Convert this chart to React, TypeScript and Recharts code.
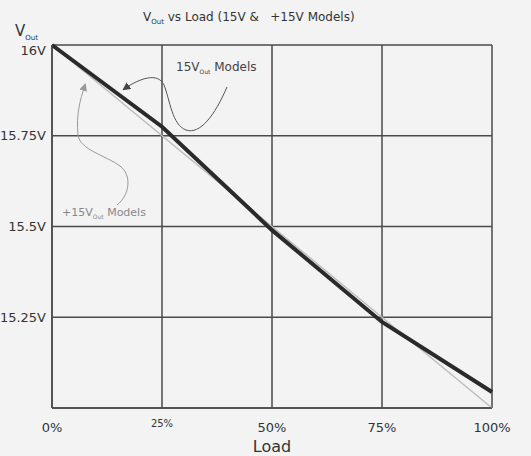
import React from 'react';
import { LineChart, Line, XAxis, YAxis, CartesianGrid, Label } from 'recharts';

// load in percent, output voltage in volts
const loadPct = [0, 25, 50, 75, 100];
const vout15 = [16, 15.775, 15.49, 15.237, 15.044];
const voutPlus15 = [16, 15.75, 15.5, 15.25, 15.0];
const yTicks = [15, 15.25, 15.5, 15.75, 16];
const yTickLabels = ['', '15.25V', '15.5V', '15.75V', '16V'];
const xTickLabels = ['0%', '25%', '50%', '75%', '100%'];

const data = loadPct.map((l, i) => ({ load: l, v15: vout15[i], vPlus15: voutPlus15[i] }));

const FONT = '"DejaVu Sans", sans-serif';
const INK = '#333';
const GRID = '#4a4a4a';

const YTick = (props: any) => {
  const { x, y, payload } = props;
  const idx = yTicks.indexOf(payload.value);
  const shift = payload.value === 16 ? 5 : 0;
  return (
    <text x={x} y={y + shift} dy="0.35em" textAnchor="end" fontSize={13} fill={INK} fontFamily={FONT}>
      {yTickLabels[idx]}
    </text>
  );
};

const XTick = (props: any) => {
  const { x, y, payload } = props;
  const idx = loadPct.indexOf(payload.value);
  const small = payload.value === 25;
  return (
    <text
      x={x}
      y={small ? y - 3 : y}
      dy="0.71em"
      textAnchor="middle"
      fontSize={small ? 10 : 13}
      fill={INK}
      fontFamily={FONT}
    >
      {xTickLabels[idx]}
    </text>
  );
};

export default function App() {
  return (
    <div style={{ position: 'absolute', left: 0, top: 0, width: 531, height: 456, background: '#f3f3f3', overflow: 'hidden' }}>
      <LineChart
        width={531}
        height={456}
        data={data}
        margin={{ top: 45, right: 39, bottom: 0, left: 0 }}
      >
        <CartesianGrid stroke={GRID} strokeWidth={1.5} />
        <XAxis
          dataKey="load"
          type="number"
          domain={[0, 100]}
          ticks={loadPct}
          height={48}
          tickSize={0}
          tickMargin={15}
          axisLine={{ stroke: GRID, strokeWidth: 1.5 }}
          tickLine={false}
          tick={<XTick />}
        >
          <Label value="Load" position="insideBottom" offset={4} fontSize={16} fill={INK} fontFamily={FONT} />
        </XAxis>
        <YAxis
          type="number"
          domain={[15, 16]}
          ticks={yTicks}
          width={52}
          tickSize={0}
          tickMargin={6}
          axisLine={{ stroke: GRID, strokeWidth: 1.5 }}
          tickLine={false}
          tick={<YTick />}
        />
        <Line
          dataKey="vPlus15"
          stroke="#bdbdbd"
          strokeWidth={1.5}
          dot={false}
          isAnimationActive={false}
        />
        <Line
          dataKey="v15"
          stroke="#2a2a2a"
          strokeWidth={4}
          dot={false}
          isAnimationActive={false}
        />
      </LineChart>

      {/* titles and hand-drawn annotations */}
      <svg width={531} height={456} style={{ position: 'absolute', left: 0, top: 0, pointerEvents: 'none' }}>
        <defs>
          <marker id="ahDark" markerWidth="8" markerHeight="8" refX="6" refY="4" orient="auto">
            <path d="M0,0 L8,4 L0,8 Z" fill="#444" />
          </marker>
          <marker id="ahLight" markerWidth="8" markerHeight="8" refX="6" refY="4" orient="auto">
            <path d="M0,0 L8,4 L0,8 Z" fill="#999" />
          </marker>
        </defs>
        <text x={143} y={21} fontSize={12} fill={INK} fontFamily={FONT} style={{ whiteSpace: 'pre' }}>
          V<tspan fontSize={7} dy={3}>Out</tspan>
          <tspan dy={-3}>{' vs Load (15V &   +15V Models)'}</tspan>
        </text>
        <text x={15} y={36} fontSize={15} fill={INK} fontFamily={FONT}>
          V<tspan fontSize={7} dy={4}>Out</tspan>
        </text>
        <text x={176} y={71} fontSize={12} fill="#444" fontFamily={FONT} style={{ whiteSpace: 'pre' }}>
          15V<tspan fontSize={6} dy={3}>Out</tspan>
          <tspan dy={-3}>{' Models'}</tspan>
        </text>
        <text x={62} y={216} fontSize={11} fill="#888" fontFamily={FONT} style={{ whiteSpace: 'pre' }}>
          +15V<tspan fontSize={6} dy={3}>Out</tspan>
          <tspan dy={-3}>{' Models'}</tspan>
        </text>
        <path
          d="M227,87 C215,115 200,135 186,130 C172,125 170,100 164,85 C158,72 140,78 124,89"
          fill="none"
          stroke="#555"
          strokeWidth={1}
          markerEnd="url(#ahDark)"
        />
        <path
          d="M117,205 C130,195 132,175 120,166 C105,155 80,150 78,135 C76,115 80,100 85,85"
          fill="none"
          stroke="#999"
          strokeWidth={1}
          markerEnd="url(#ahLight)"
        />
      </svg>
    </div>
  );
}
